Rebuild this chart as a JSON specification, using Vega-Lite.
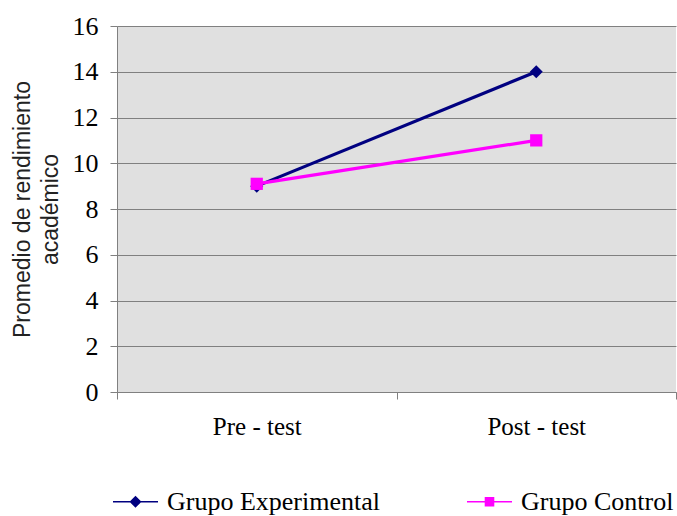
{
  "$schema": "https://vega.github.io/schema/vega-lite/v6.json",
  "autosize": "none",
  "width": 559,
  "height": 366,
  "padding": {"left": 117, "top": 26, "right": 1, "bottom": 124},
  "background": "white",
  "config": {
    "view": {"fill": "#e0e0e0", "stroke": null},
    "font": "Liberation Serif"
  },
  "data": {
    "values": [
      {"prueba": "Pre - test", "grupo": "Grupo Experimental", "promedio": 9.0},
      {"prueba": "Post - test", "grupo": "Grupo Experimental", "promedio": 14.0},
      {"prueba": "Pre - test", "grupo": "Grupo Control", "promedio": 9.1},
      {"prueba": "Post - test", "grupo": "Grupo Control", "promedio": 11.0}
    ]
  },
  "encoding": {
    "x": {
      "field": "prueba",
      "type": "nominal",
      "sort": ["Pre - test", "Post - test"],
      "scale": {"type": "band", "paddingInner": 0, "paddingOuter": 0},
      "axis": {
        "title": null,
        "labelAngle": 0,
        "tickBand": "extent",
        "labelFont": "Liberation Serif",
        "labelFontSize": 25,
        "labelColor": "black",
        "labelPadding": 15,
        "tickSize": 7,
        "tickColor": "#808080",
        "domainColor": "#808080",
        "grid": false
      }
    },
    "y": {
      "field": "promedio",
      "type": "quantitative",
      "scale": {"domain": [0, 16], "nice": false, "zero": true},
      "axis": {
        "values": [0, 2, 4, 6, 8, 10, 12, 14, 16],
        "title": ["Promedio de rendimiento", "académico"],
        "titleFont": "Liberation Sans",
        "titleFontSize": 23,
        "titleFontWeight": "normal",
        "titleColor": "#222222",
        "titlePadding": 10,
        "titleLineHeight": 28,
        "labelFont": "Liberation Serif",
        "labelFontSize": 26,
        "labelColor": "black",
        "labelPadding": 12,
        "tickSize": 7,
        "tickColor": "#808080",
        "domainColor": "#808080",
        "grid": true,
        "gridColor": "#808080",
        "gridOpacity": 1,
        "gridWidth": 1.2
      }
    },
    "color": {
      "field": "grupo",
      "type": "nominal",
      "scale": {
        "domain": ["Grupo Experimental", "Grupo Control"],
        "range": ["#000080", "#ff00ff"]
      },
      "legend": {
        "title": null,
        "orient": "none",
        "direction": "horizontal",
        "columns": 2,
        "columnPadding": 84,
        "legendX": -5,
        "legendY": 452,
        "labelFont": "Liberation Serif",
        "labelFontSize": 26,
        "labelColor": "black",
        "labelOffset": 8,
        "labelLimit": 400,
        "symbolSize": 2025,
        "symbolStrokeWidth": 1.5,
        "symbolOpacity": 1,
        "encode": {
          "symbols": {
            "update": {
              "shape": {"signal": "datum.value === 'Grupo Experimental' ? 'M-1,0H1M-0.22,0L0,-0.22L0.22,0L0,0.22Z' : 'M-1,0H1M-0.18,-0.18H0.18V0.18H-0.18Z'"},
              "fill": {"signal": "datum.value === 'Grupo Experimental' ? '#000080' : '#c020c0'"},
              "stroke": {"signal": "datum.value === 'Grupo Experimental' ? '#000080' : '#ff00ff'"}
            }
          }
        }
      }
    }
  },
  "layer": [
    {
      "mark": {"type": "line", "strokeWidth": 3.2}
    },
    {
      "transform": [{"filter": "datum.grupo === 'Grupo Experimental'"}],
      "mark": {"type": "point", "filled": true, "opacity": 1, "size": 170, "shape": "diamond"}
    },
    {
      "transform": [{"filter": "datum.grupo === 'Grupo Control'"}],
      "mark": {"type": "point", "filled": true, "opacity": 1, "size": 150, "shape": "square"}
    }
  ]
}
